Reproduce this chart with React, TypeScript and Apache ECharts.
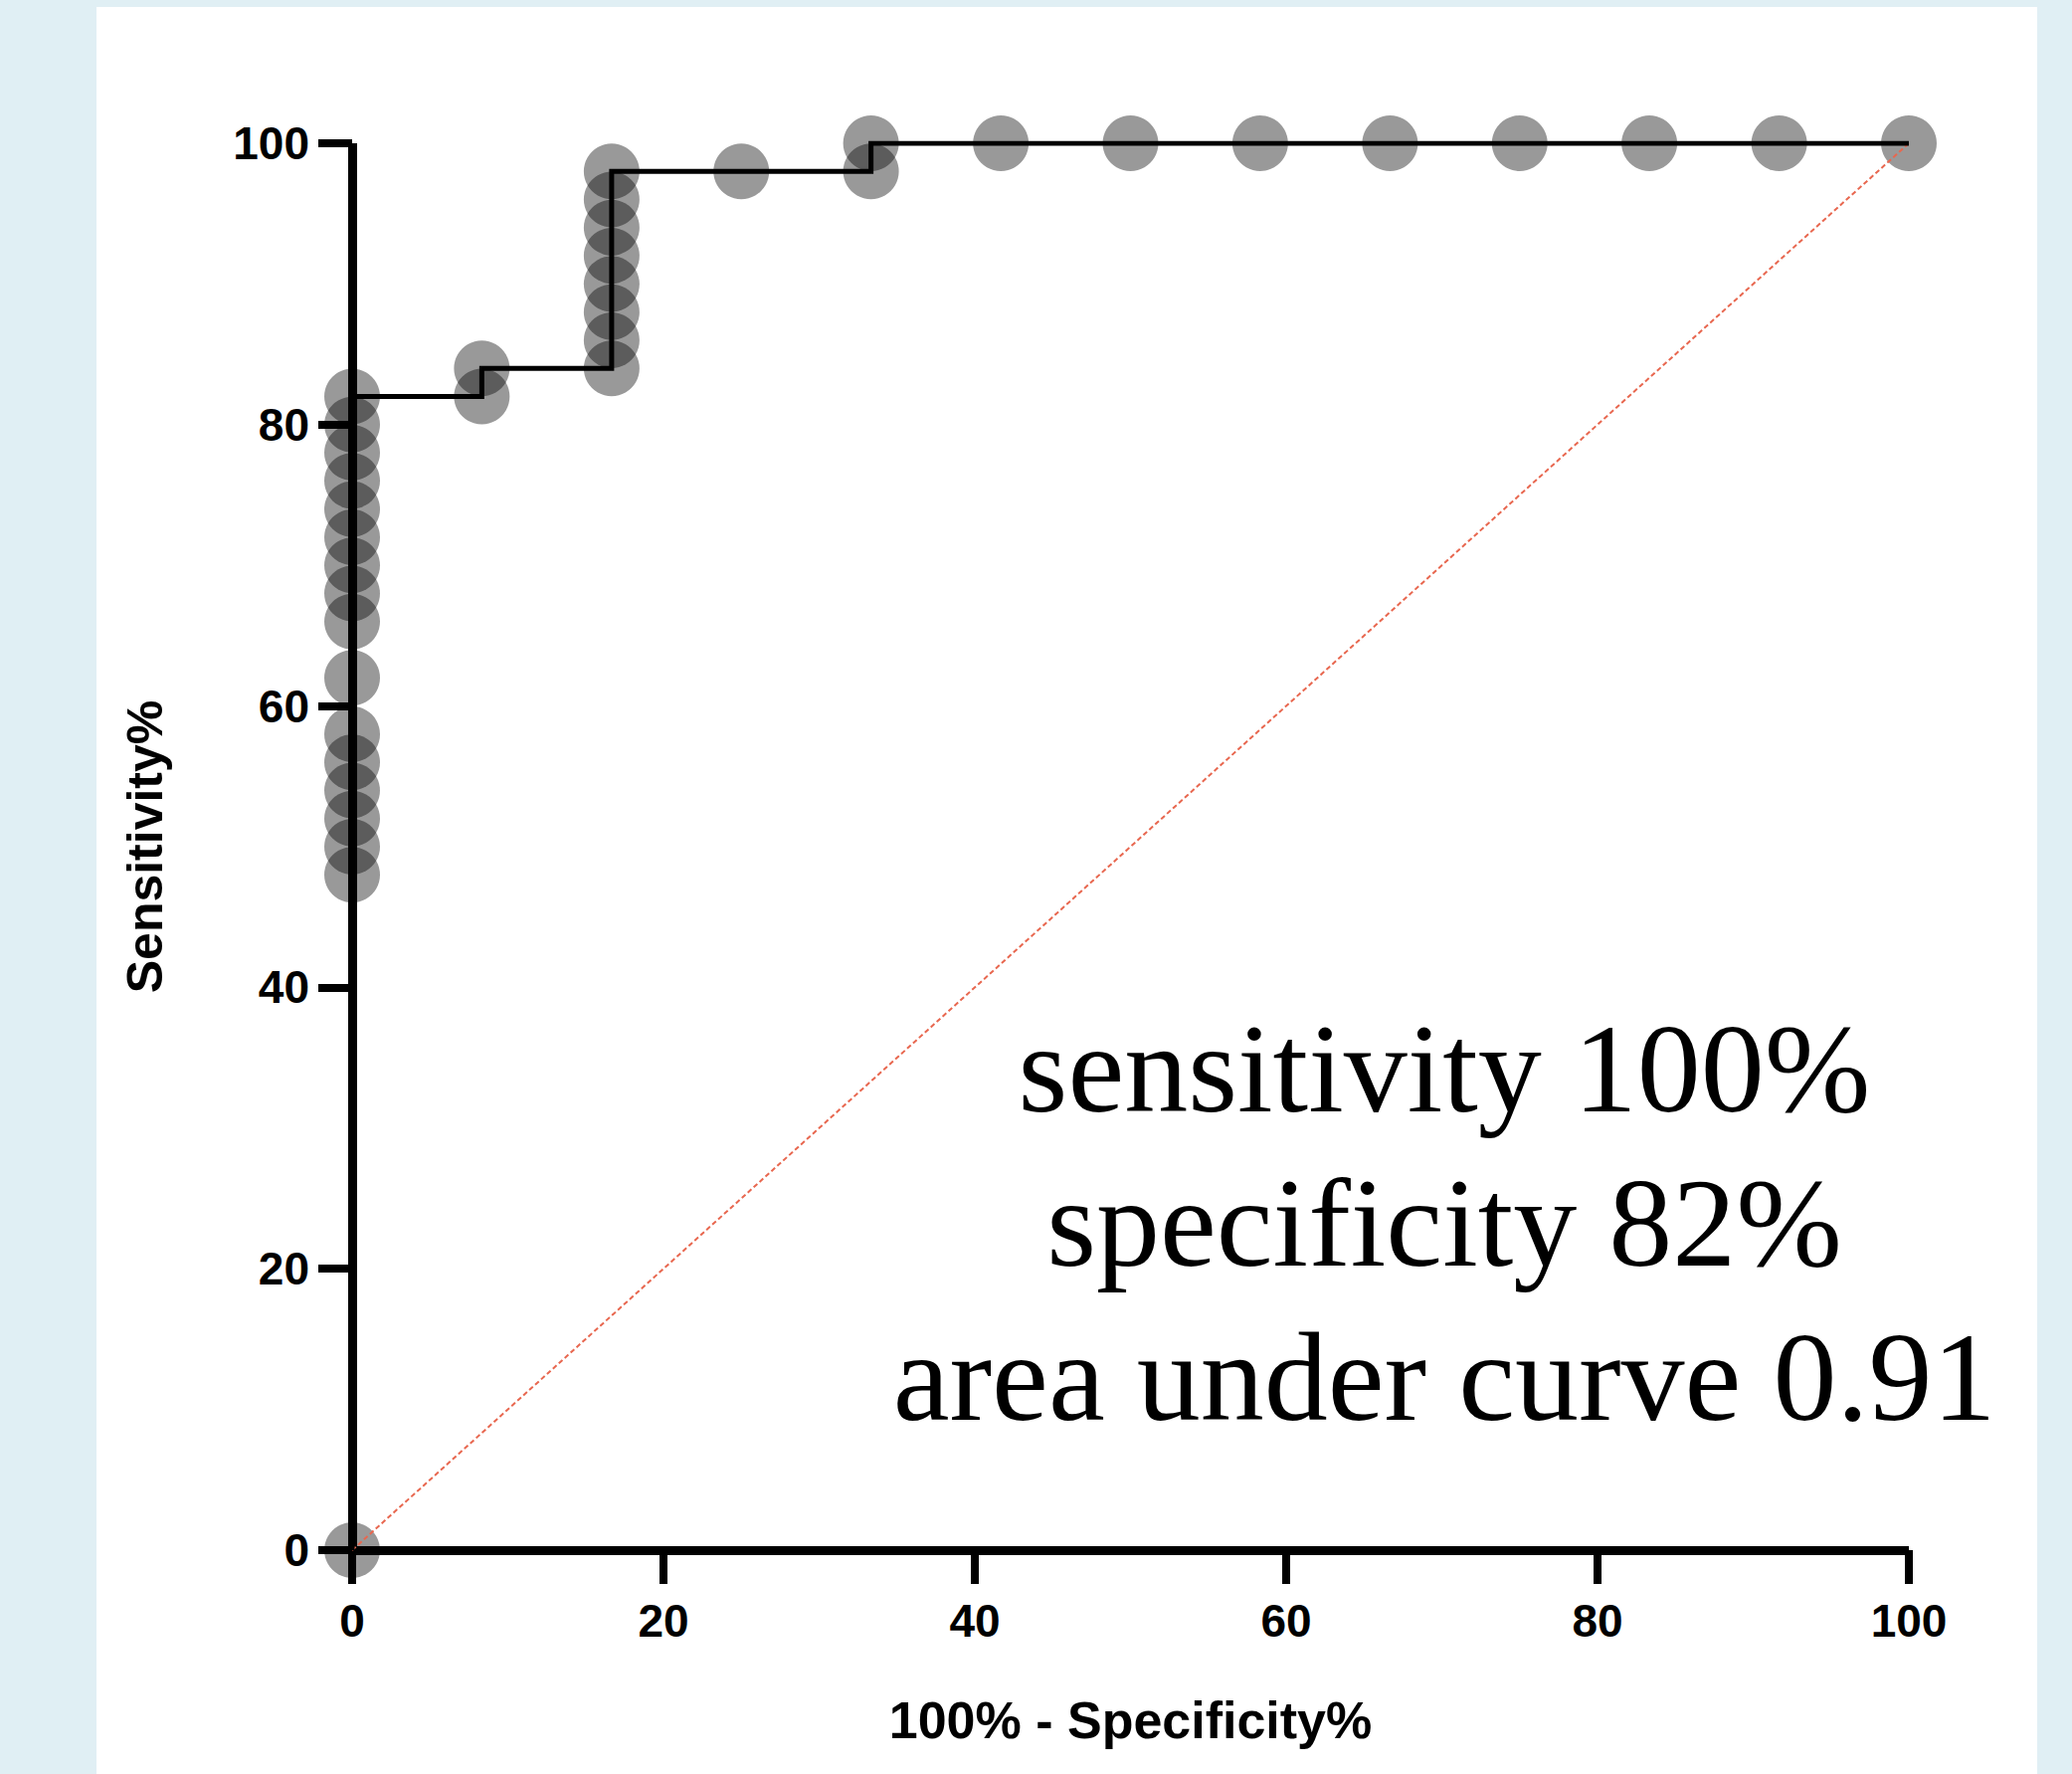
import React, { useEffect, useRef } from "react";
import * as echarts from "echarts";

// ROC curve: sensitivity (%) vs 100% - specificity (%)
const xTicks = [0, 20, 40, 60, 80, 100];
const yTicks = [0, 20, 40, 60, 80, 100];

// Individual ROC points (x = 100% - Specificity%, y = Sensitivity%)
const pointX = [
  0, 0, 0, 0, 0, 0, 0, 0, 0, 0, 0, 0, 0, 0, 0, 0, 0,
  8.33, 8.33,
  16.67, 16.67, 16.67, 16.67, 16.67, 16.67, 16.67, 16.67,
  25,
  33.33, 33.33,
  41.67, 50, 58.33, 66.67, 75, 83.33, 91.67, 100,
];
const pointY = [
  0, 48, 50, 52, 54, 56, 58, 62, 66, 68, 70, 72, 74, 76, 78, 80, 82,
  82, 84,
  84, 86, 88, 90, 92, 94, 96, 98,
  98,
  98, 100,
  100, 100, 100, 100, 100, 100, 100, 100,
];

// Step curve vertices
const curveX = [0, 0, 8.33, 8.33, 16.67, 16.67, 33.33, 33.33, 100];
const curveY = [0, 82, 82, 84, 84, 98, 98, 100, 100];

// Reference (chance) line
const diagX = [0, 100];
const diagY = [0, 100];

const annotationLines = [
  "sensitivity 100%",
  "specificity 82%",
  "area under curve 0.91",
];

const xName = "100% - Specificity%";
const yName = "Sensitivity%";

export default function App() {
  const ref = useRef<HTMLDivElement>(null);

  useEffect(() => {
    if (!ref.current) return;
    const chart = echarts.init(ref.current, null, { renderer: "svg" });
    const sans = "'Liberation Sans', Arial, Helvetica, sans-serif";
    const serif = "'Liberation Serif', 'Times New Roman', Times, serif";

    const axisCommon = {
      type: "value" as const,
      min: 0,
      max: 100,
      interval: 20,
      splitLine: { show: false },
      axisLine: { show: true, onZero: false, lineStyle: { color: "#000", width: 9, cap: "butt" } },
      axisTick: { show: true, inside: false, length: 34, lineStyle: { color: "#000", width: 8 } },
    };

    chart.setOption({
      animation: false,
      backgroundColor: "transparent",
      grid: {
        left: 354,
        right: 164,
        top: 144,
        bottom: 225,
        containLabel: false,
        outerBoundsMode: "none",
      },
      xAxis: {
        ...axisCommon,
        name: xName,
        nameLocation: "middle",
        nameGap: 145,
        nameTextStyle: { fontFamily: sans, fontWeight: "bold", fontSize: 52, color: "#000" },
        axisLabel: {
          margin: 48,
          fontFamily: sans,
          fontWeight: "bold",
          fontSize: 46,
          color: "#000",
          formatter: (v: number) => (xTicks.includes(v) ? String(v) : ""),
        },
      },
      yAxis: {
        ...axisCommon,
        name: yName,
        nameLocation: "middle",
        nameGap: 183,
        nameRotate: 90,
        nameTextStyle: { fontFamily: sans, fontWeight: "bold", fontSize: 50, color: "#000" },
        axisLabel: {
          margin: 43,
          fontFamily: sans,
          fontWeight: "bold",
          fontSize: 46,
          color: "#000",
          formatter: (v: number) => (yTicks.includes(v) ? String(v) : ""),
        },
      },
      series: [
        {
          type: "scatter",
          data: pointX.map((x, i) => [x, pointY[i]]),
          symbol: "circle",
          symbolSize: 56,
          itemStyle: { color: "rgba(0,0,0,0.5)", borderWidth: 0 },
          z: 2,
        },
        {
          type: "line",
          data: diagX.map((x, i) => [x, diagY[i]]),
          showSymbol: false,
          symbol: "none",
          lineStyle: { color: "#e8674f", width: 2, type: [5, 3] },
          z: 3,
        },
        {
          type: "line",
          data: curveX.map((x, i) => [x, curveY[i]]),
          showSymbol: false,
          symbol: "none",
          lineStyle: { color: "#000", width: 5, join: "miter", cap: "butt" },
          z: 4,
        },
      ],
      graphic: annotationLines.map((t, i) => ({
        type: "text",
        x: 1452,
        y: 1074 + i * 155,
        style: {
          text: t,
          fontFamily: serif,
          fontSize: 128,
          fill: "#000",
          align: "center",
          verticalAlign: "middle",
        },
        z: 10,
      })),
    });

    return () => chart.dispose();
  }, []);

  return (
    <div
      style={{
        position: "fixed",
        left: 0,
        top: 0,
        width: 2083,
        height: 1783,
        background: "#e0eff4",
        overflow: "hidden",
      }}
    >
      <div
        style={{
          position: "absolute",
          left: 97,
          top: 7,
          width: 1951,
          height: 1776,
          background: "#ffffff",
        }}
      />
      <div
        ref={ref}
        style={{ position: "absolute", left: 0, top: 0, width: 2083, height: 1783 }}
      />
    </div>
  );
}
